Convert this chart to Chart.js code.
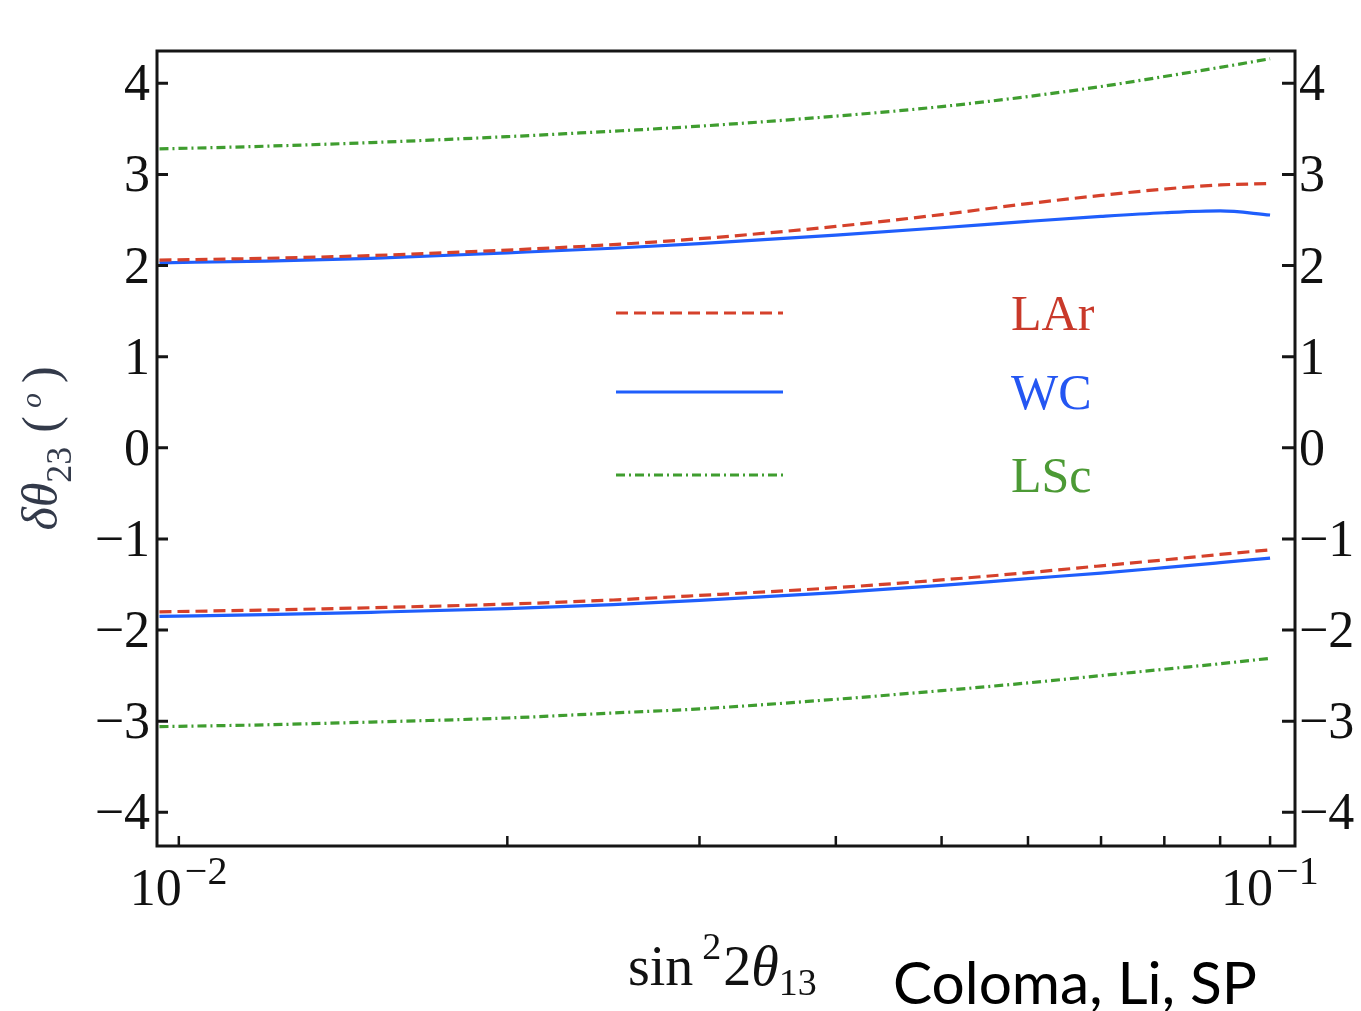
<!DOCTYPE html>
<html>
<head>
<meta charset="utf-8">
<title>Precision on theta23 vs sin^2 2theta13</title>
<script src="https://cdn.jsdelivr.net/npm/chart.js@4.4.0/dist/chart.umd.min.js"></script>
<style>
  html, body { margin: 0; padding: 0; background: #ffffff; overflow: hidden; }
  canvas { display: block; }
</style>
</head>
<body>
<canvas id="chart" width="1361" height="1011"></canvas>
<script>
// sin^2(2 theta13) sampling points
const xValues = [0.0096, 0.012, 0.015, 0.02, 0.025, 0.03, 0.04, 0.05, 0.06, 0.07, 0.08, 0.09, 0.1];

// delta theta23 (degrees), upper and lower branches per detector technology
const larUpper = [2.06, 2.08, 2.11, 2.17, 2.23, 2.295, 2.43, 2.56, 2.68, 2.77, 2.84, 2.885, 2.90];
const larLower = [-1.80, -1.78, -1.755, -1.715, -1.67, -1.62, -1.535, -1.45, -1.37, -1.295, -1.23, -1.17, -1.12];
const wcUpper  = [2.03, 2.05, 2.08, 2.14, 2.19, 2.24, 2.335, 2.415, 2.485, 2.54, 2.58, 2.60, 2.555];
const wcLower  = [-1.85, -1.83, -1.805, -1.765, -1.72, -1.675, -1.59, -1.51, -1.435, -1.375, -1.315, -1.26, -1.21];
const lscUpper = [3.28, 3.31, 3.35, 3.415, 3.475, 3.53, 3.64, 3.745, 3.855, 3.965, 4.075, 4.175, 4.27];
const lscLower = [-3.06, -3.04, -3.01, -2.965, -2.91, -2.865, -2.76, -2.665, -2.58, -2.50, -2.43, -2.37, -2.31];

// axis ticks
const yTicks = [-4, -3, -2, -1, 0, 1, 2, 3, 4];
const xMajorTicks = [0.01, 0.1];
const xMajorExponents = ['−2', '−1'];
const xMinorTicks = [0.02, 0.03, 0.04, 0.05, 0.06, 0.07, 0.08, 0.09];

// legend entries
const detectorNames = ['LAr', 'WC', 'LSc'];

const RED = '#d5412b';
const BLUE = '#1f5efc';
const GREEN = '#3f9d2f';
const styles = {
  LAr: { color: RED, text: '#c9392a', dash: [12, 6] },
  WC:  { color: BLUE, text: '#2456f2', dash: [] },
  LSc: { color: GREEN, text: '#4c9a35', dash: [9, 4, 2, 4] }
};

function curve(name, values) {
  const st = styles[name];
  return {
    label: name,
    data: xValues.map((x, i) => ({ x: x, y: values[i] })),
    borderColor: st.color,
    borderWidth: 3.2,
    borderDash: st.dash,
    pointRadius: 0,
    fill: false,
    cubicInterpolationMode: 'monotone'
  };
}

const SERIF = '"Liberation Serif", "DejaVu Serif", serif';

// draw a sequence of text runs with individual fonts and baseline offsets
function drawRuns(ctx, runs, x, y) {
  let cx = x;
  runs.forEach(r => {
    ctx.font = r.font;
    ctx.fillText(r.text, cx + (r.dx || 0), y + (r.dy || 0));
    cx += ctx.measureText(r.text).width + (r.dx || 0) + (r.after || 0);
  });
  return cx;
}
function runsWidth(ctx, runs) {
  let w = 0;
  runs.forEach(r => {
    ctx.font = r.font;
    w += ctx.measureText(r.text).width + (r.dx || 0) + (r.after || 0);
  });
  return w;
}

const framePlugin = {
  id: 'frame',
  afterDraw(chart) {
    const ctx = chart.ctx;
    const a = chart.chartArea;
    const xs = chart.scales.x;
    const ys = chart.scales.y;
    ctx.save();

    // frame
    ctx.strokeStyle = '#151515';
    ctx.lineWidth = 3;
    ctx.setLineDash([]);
    ctx.strokeRect(a.left, a.top, a.right - a.left, a.bottom - a.top);

    // y ticks on both sides, pointing inward
    ctx.lineWidth = 3;
    yTicks.forEach(v => {
      const py = ys.getPixelForValue(v);
      ctx.beginPath();
      ctx.moveTo(a.left, py); ctx.lineTo(a.left + 11, py);
      ctx.moveTo(a.right, py); ctx.lineTo(a.right - 13, py);
      ctx.stroke();
    });

    // x ticks along the bottom
    ctx.lineWidth = 2.5;
    xMajorTicks.concat(xMinorTicks).forEach(v => {
      const px = xs.getPixelForValue(v);
      ctx.beginPath();
      ctx.moveTo(px, a.bottom); ctx.lineTo(px, a.bottom - 10);
      ctx.stroke();
    });

    // y tick labels
    ctx.fillStyle = '#111111';
    ctx.font = '52px ' + SERIF;
    ctx.textBaseline = 'alphabetic';
    yTicks.forEach(v => {
      const py = ys.getPixelForValue(v) + 17;
      const label = v < 0 ? '−' + Math.abs(v) : String(v);
      ctx.textAlign = 'right';
      ctx.fillText(label, a.left - 7, py);
      ctx.textAlign = 'left';
      ctx.fillText(label, a.right + 4, py);
    });

    // x tick labels: 10 with exponent
    xMajorTicks.forEach((v, i) => {
      const px = xs.getPixelForValue(v);
      ctx.textAlign = 'right';
      ctx.font = '52px ' + SERIF;
      ctx.fillText('10', px + 3, 905);
      ctx.textAlign = 'left';
      ctx.font = '40px ' + SERIF;
      ctx.fillText(xMajorExponents[i], px + 6, 884);
    });

    // x axis title
    ctx.textAlign = 'left';
    const xTitle = [
      { text: 'sin', font: '56px ' + SERIF, after: 9 },
      { text: '2', font: '38px ' + SERIF, dy: -26, after: 2 },
      { text: '2', font: '56px ' + SERIF },
      { text: 'θ', font: 'italic 56px ' + SERIF },
      { text: '13', font: '38px ' + SERIF, dy: 10 }
    ];
    drawRuns(ctx, xTitle, 628, 985);

    // y axis title, rotated
    const yTitle = [
      { text: 'δθ', font: 'italic 50px ' + SERIF },
      { text: '23', font: '36px ' + SERIF, dy: 14, after: 14 },
      { text: '(', font: '50px ' + SERIF, after: 8 },
      { text: 'o', font: 'italic 30px ' + SERIF, dy: -16, after: 10 },
      { text: ')', font: '50px ' + SERIF }
    ];
    ctx.save();
    ctx.translate(57, (a.top + a.bottom) / 2);
    ctx.rotate(-Math.PI / 2);
    ctx.fillStyle = '#333a4a';
    const tw = runsWidth(ctx, yTitle);
    drawRuns(ctx, yTitle, -tw / 2, 0);
    ctx.restore();

    // legend inside the plot
    const legendY = [313, 392, 475];
    detectorNames.forEach((name, i) => {
      const st = styles[name];
      ctx.strokeStyle = st.color;
      ctx.lineWidth = 3.2;
      ctx.setLineDash(st.dash);
      ctx.beginPath();
      ctx.moveTo(616, legendY[i]);
      ctx.lineTo(783, legendY[i]);
      ctx.stroke();
      ctx.setLineDash([]);
      ctx.fillStyle = st.text;
      ctx.font = '50px ' + SERIF;
      ctx.textAlign = 'left';
      ctx.fillText(name, 1011, legendY[i] + 17);
    });

    // author credit
    ctx.fillStyle = '#000000';
    ctx.font = '58px Lato, "Open Sans", sans-serif';
    const credit = 'Coloma, Li, SP';
    const cw = ctx.measureText(credit).width;
    const target = 364;
    ctx.save();
    ctx.translate(893, 1004);
    ctx.scale(target / cw, 1);
    ctx.fillText(credit, 0, 0);
    ctx.restore();

    ctx.restore();
  }
};

new Chart(document.getElementById('chart'), {
  type: 'line',
  data: {
    datasets: [
      curve('LSc', lscUpper),
      curve('LAr', larUpper),
      curve('WC', wcUpper),
      curve('LSc', lscLower),
      curve('LAr', larLower),
      curve('WC', wcLower)
    ]
  },
  options: {
    responsive: false,
    animation: false,
    devicePixelRatio: 1,
    layout: { padding: { left: 157, right: 66, top: 51, bottom: 165 } },
    plugins: { legend: { display: false }, tooltip: { enabled: false } },
    scales: {
      x: { type: 'logarithmic', min: 0.00955, max: 0.1054, display: false },
      y: { type: 'linear', min: -4.37, max: 4.355, display: false }
    }
  },
  plugins: [framePlugin]
});
</script>
</body>
</html>
